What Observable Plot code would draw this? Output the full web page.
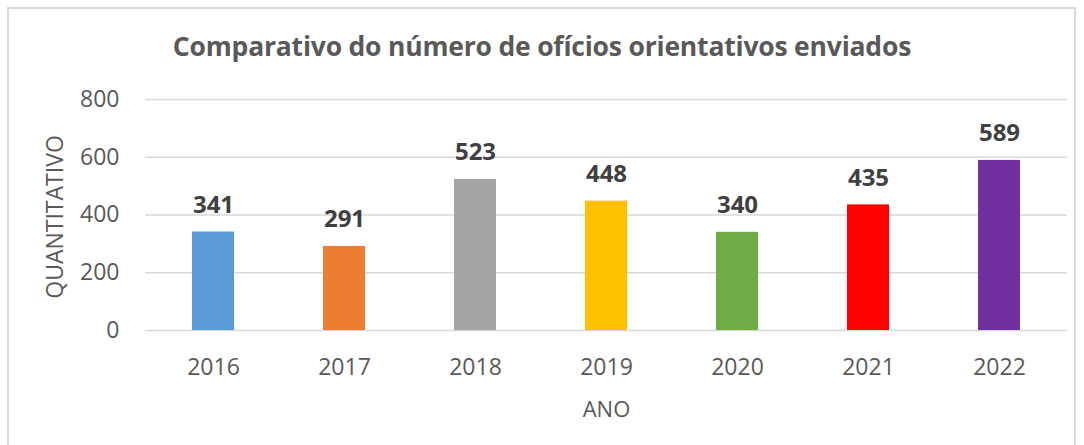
<!DOCTYPE html>
<html><head><meta charset="utf-8">
<script src="https://cdn.jsdelivr.net/npm/d3@7"></script>
<script src="https://cdn.jsdelivr.net/npm/@observablehq/plot@0.6"></script>
<style>
body{margin:0;background:#fff;font-family:"Open Sans",sans-serif;}
#wrap{position:relative;width:1084px;height:445px;overflow:hidden;}
#frame{position:absolute;left:7px;top:7px;width:1069px;height:445px;border:2px solid #d9d9d9;box-sizing:border-box;}
#title{position:absolute;left:0;top:28px;width:1084px;text-align:center;font-weight:700;font-size:26.5px;color:#595959;letter-spacing:-0.2px;}
#chart{position:absolute;left:0;top:75px;}
</style></head>
<body><div id="wrap"><div id="frame"></div><div id="title">Comparativo do número de ofícios orientativos enviados</div><div id="chart"></div></div>
<script>
const years = ["2016","2017","2018","2019","2020","2021","2022"];
const values = [341, 291, 523, 448, 340, 435, 589];
const colors = ["#5B9BD5","#ED7D31","#A5A5A5","#FFC000","#70AD47","#FF0000","#7030A0"];
const yTicks = [0, 200, 400, 600, 800];
const data = years.map((y, i) => ({year: y, value: values[i], color: colors[i]}));

const chart = Plot.plot({
  width: 1084, height: 370,
  marginLeft: 145, marginRight: 17, marginTop: 24, marginBottom: 115,
  style: {fontFamily: "Open Sans, sans-serif", background: "transparent", overflow: "visible"},
  x: {domain: years, paddingInner: 0.68, paddingOuter: 0.34, label: null},
  y: {domain: [0, 800], ticks: yTicks, label: null},
  marks: [
    Plot.gridY(yTicks, {stroke: "#d9d9d9", strokeOpacity: 1, strokeWidth: 1.3}),
    Plot.barY(data, {x: "year", y: "value", fill: "color"}),
    Plot.text(data, {x: "year", y: "value", text: d => String(d.value), dy: -27, fontSize: 24, fontWeight: "bold", fill: "#404040"}),
    Plot.axisY(yTicks, {tickSize: 0, tickPadding: 26, fontSize: 23, fill: "#595959", label: null}),
    Plot.axisX({tickSize: 0, tickPadding: 28, fontSize: 23, fill: "#595959", label: null}),
    Plot.text(["ANO"], {frameAnchor: "bottom", lineAnchor: "middle", dy: 79, fontSize: 22, fill: "#595959"}),
    Plot.text(["QUANTITATIVO"], {frameAnchor: "left", textAnchor: "middle", lineAnchor: "middle", dx: -90, dy: 2, rotate: -90, fontSize: 23, fill: "#595959"})
  ]
});
document.getElementById("chart").appendChild(chart);
</script></body></html>
